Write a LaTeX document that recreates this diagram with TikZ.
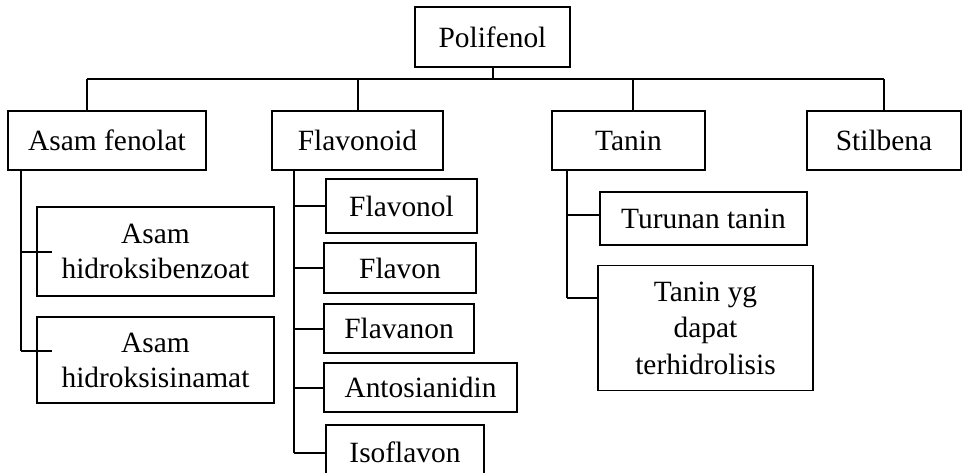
\documentclass[tikz,border=0pt]{standalone}
\usepackage{fontspec}
\setmainfont{Liberation Serif}
\usetikzlibrary{calc}
\begin{document}
\begin{tikzpicture}[x=1pt,y=-1pt,
  box/.style={draw, line width=1.2pt, inner sep=0pt, align=center,
    font=\fontsize{29.4}{35}\selectfont},
  link/.style={line width=2pt}]
\clip (0,0) rectangle (962,472);
\fill[white] (0,0) rectangle (962,472);

% top level
\node[box, minimum width=155pt, minimum height=60pt] (pol) at (492.5,37) {Polifenol};
\node[box, minimum width=198pt, minimum height=59pt] (af) at (107,140.5) {Asam fenolat};
\node[box, minimum width=171pt, minimum height=59pt] (fl) at (357.5,140.5) {Flavonoid};
\node[box, minimum width=153pt, minimum height=59pt] (tn) at (628.5,140.5) {Tanin};
\node[box, minimum width=154pt, minimum height=59pt] (st) at (884,140.5) {Stilbena};

% phenolic acids
\node[box, minimum width=237pt, minimum height=89pt] (ahb) at (155.5,251.5) {Asam\\hidroksibenzoat};
\node[box, minimum width=237pt, minimum height=86pt] (ahs) at (155.5,360) {Asam\\hidroksisinamat};

% flavonoids
\node[box, minimum width=151pt, minimum height=54pt] (fnl) at (401.5,206) {Flavonol};
\node[box, minimum width=152pt, minimum height=50pt] (fvn) at (400,268) {Flavon};
\node[box, minimum width=150pt, minimum height=49pt] (fvnn) at (399,328.5) {Flavanon};
\node[box, minimum width=193pt, minimum height=49pt] (ant) at (420.5,387.5) {Antosianidin};
\node[box, minimum width=158pt, minimum height=55pt] (iso) at (405,452.5) {Isoflavon};

% tannins
\node[box, minimum width=207pt, minimum height=53pt] (tur) at (703.5,218.5) {Turunan tanin};
\node[box, minimum width=215pt, minimum height=125pt,
  font=\fontsize{29.4}{36.5}\selectfont] (thd) at (705.5,328) {Tanin yg\\dapat\\terhidrolisis};

% main bus
\coordinate (busL) at (87,79);
\coordinate (busR) at (884,79);
\coordinate (jtn) at (633,79);
\draw[link] (pol.south) -- (pol.south |- busL);
\draw[link] (busL) -- (busR);
\draw[link] (busL) -- (busL |- af.north);
\draw[link] (fl.north |- busL) -- (fl.north);
\draw[link] (jtn) -- (jtn |- tn.north);
\draw[link] (busR) -- (st.north);

% phenolic acid branches
\coordinate (ax) at (21,170);
\coordinate (a1) at ($(ahb.west)+(16,0)$);
\coordinate (a2) at ($(ahs.west)+(16,-9)$);
\draw[link] (ax |- af.south) -- (ax |- a2);
\draw[link] (ax |- a1) -- (a1);
\draw[link] (ax |- a2) -- (a2);

% flavonoid branches
\coordinate (fx) at (294,170);
\draw[link] (fx |- fl.south) -- (fx |- iso.west);
\foreach \n in {fnl,fvn,fvnn,ant,iso}
  \draw[link] (fx |- \n.west) -- (\n.west);

% tannin branches
\coordinate (tx) at (567,170);
\coordinate (t1) at ($(tur.west)+(0,-3.5)$);
\coordinate (t2) at ($(thd.west)+(0,-30)$);
\draw[link] (tx |- tn.south) -- (tx |- t2);
\draw[link] (tx |- t1) -- (t1);
\draw[link] (tx |- t2) -- (t2);
\end{tikzpicture}
\end{document}
